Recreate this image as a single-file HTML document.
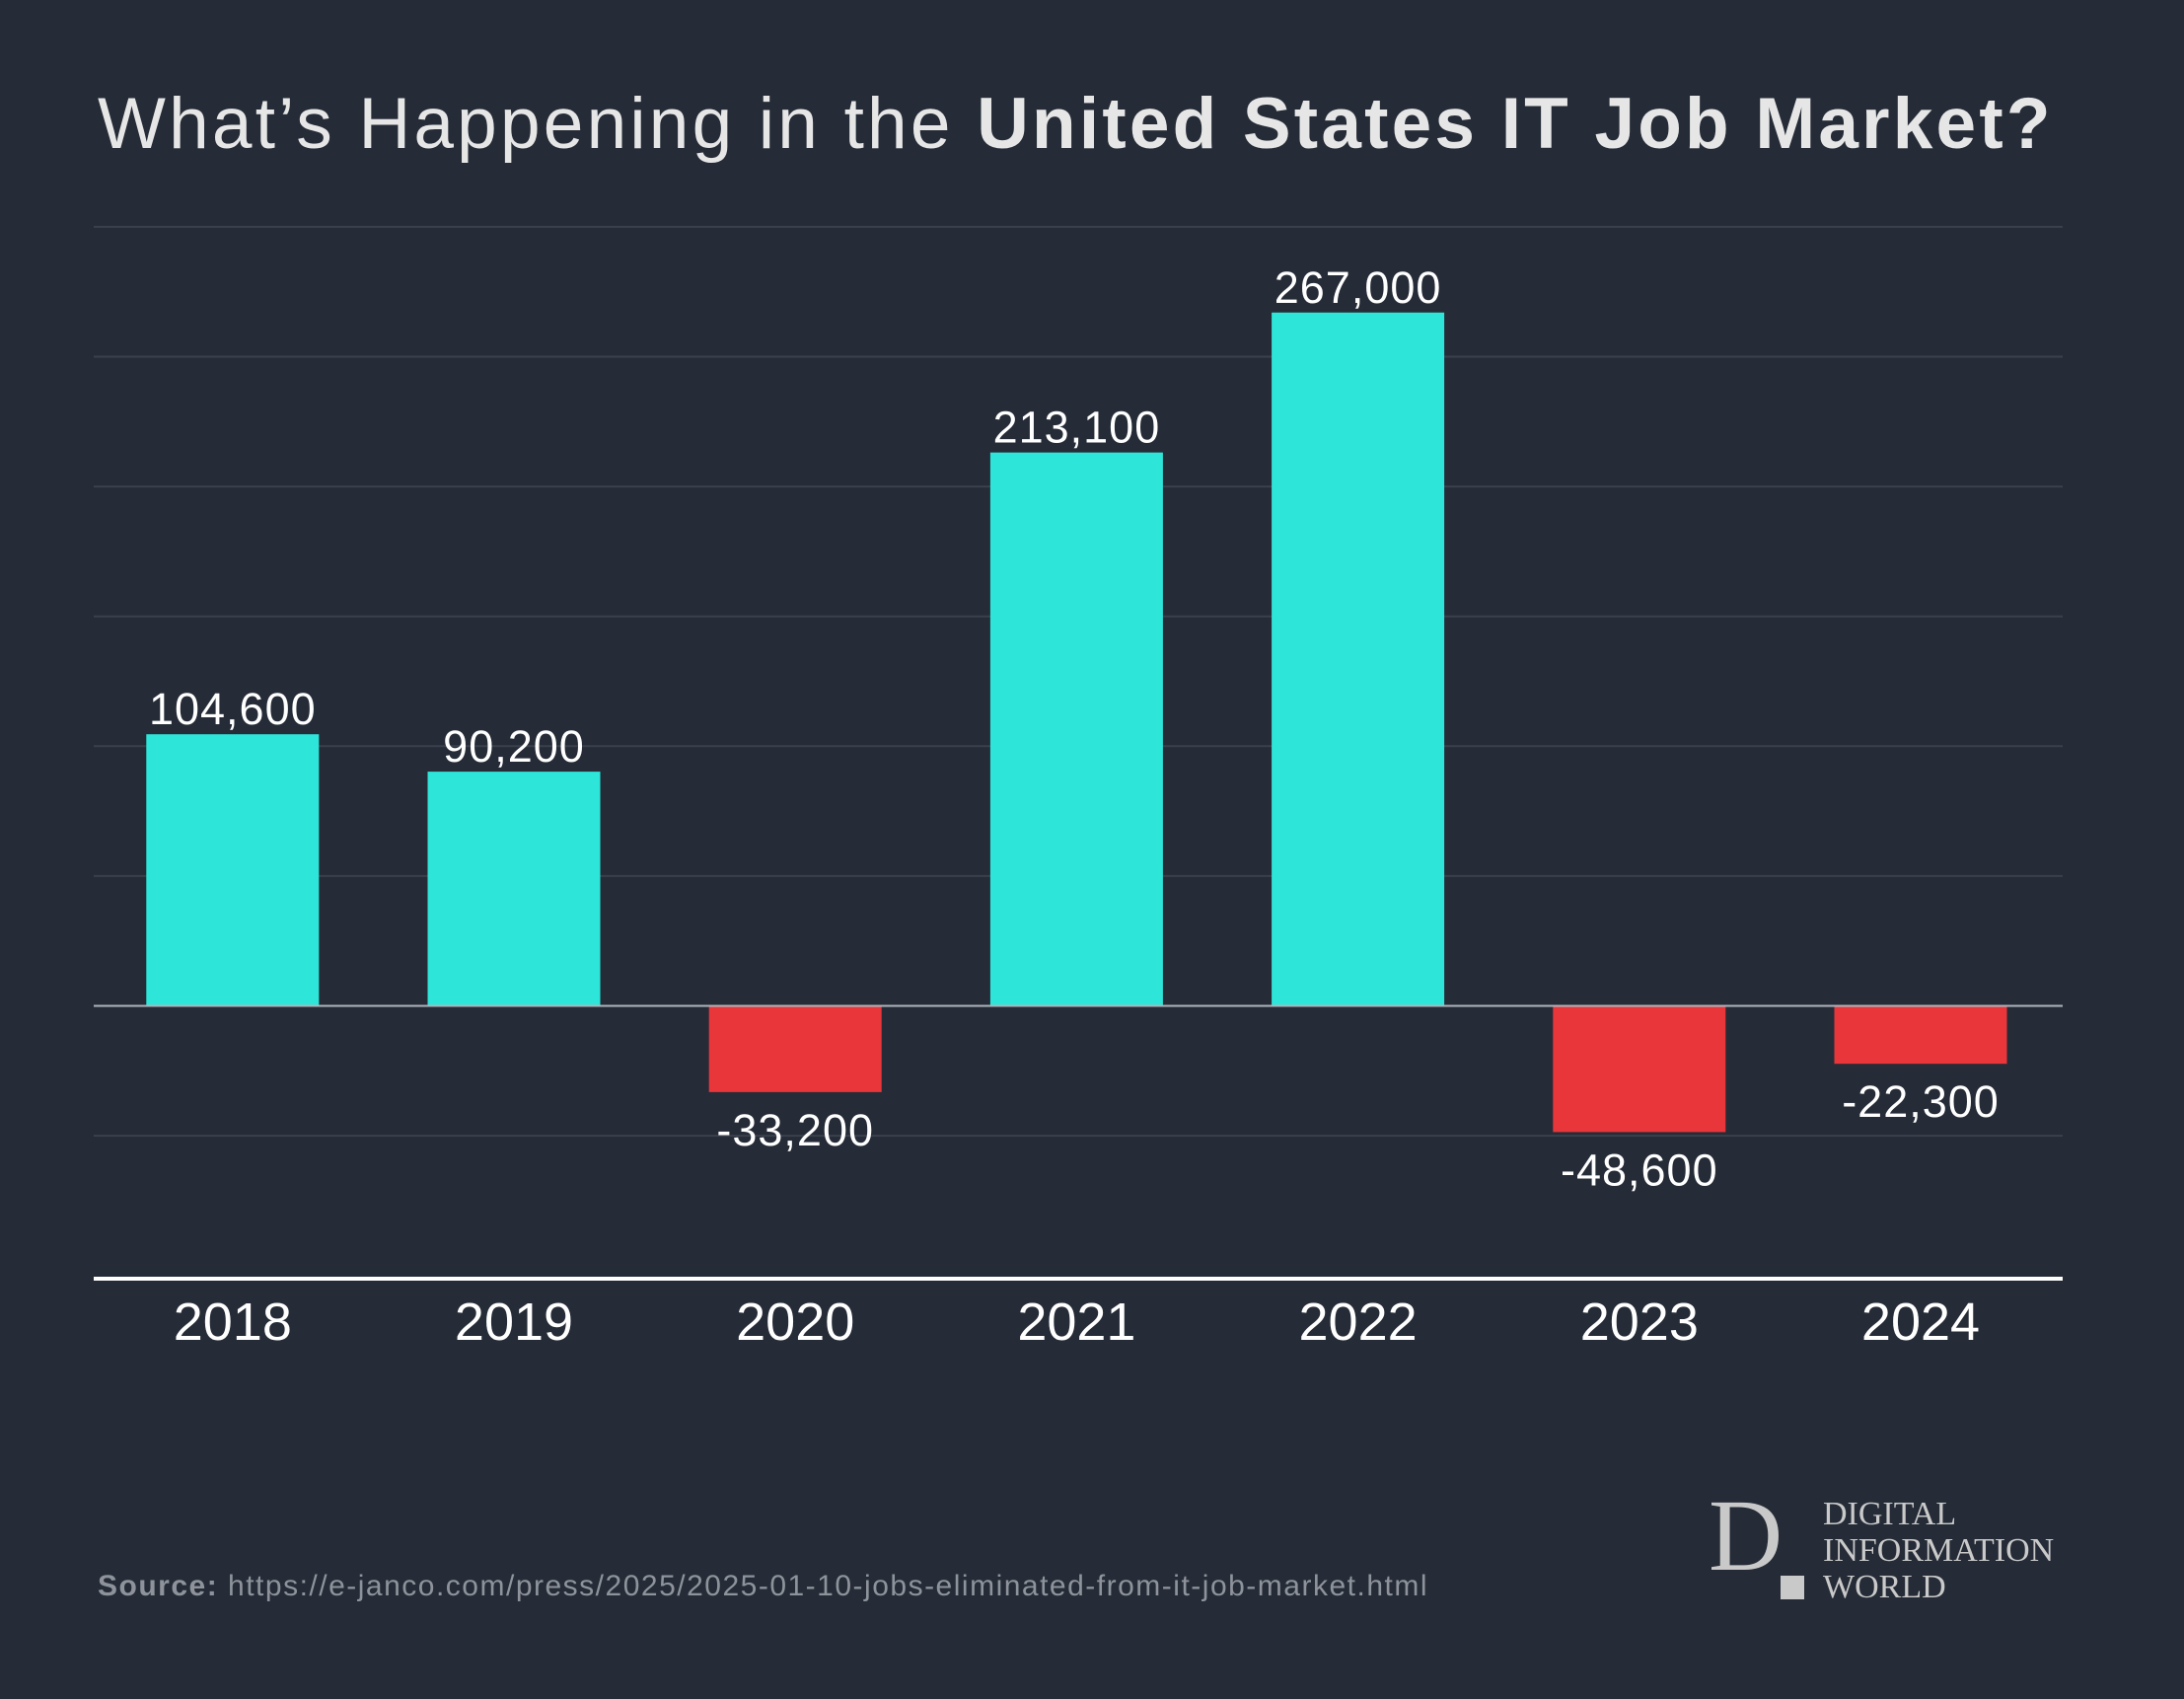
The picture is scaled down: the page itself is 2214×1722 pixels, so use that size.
<!DOCTYPE html>
<html><head><meta charset="utf-8"><style>
html,body{margin:0;padding:0;background:#252c37;}
body{width:2214px;height:1722px;overflow:hidden;position:relative;font-family:"Liberation Sans",sans-serif;}
#title{position:absolute;left:99px;top:84px;font-size:73px;color:#e6e6e6;white-space:nowrap;letter-spacing:3.2px;}
#title b{font-weight:700;}
#source{position:absolute;left:99px;top:1591px;font-size:30px;color:#8e939b;white-space:nowrap;letter-spacing:1.5px;}
#source b{font-weight:700;}
.logo{position:absolute;font-family:"Liberation Serif",serif;color:#c9c9c9;}
</style></head><body>
<div id="title">What’s Happening in the <b>United States IT Job Market?</b></div>
<svg id="chart" width="2214" height="1722" style="position:absolute;left:0;top:0"></svg>
<div id="source"><b>Source:</b> https://e-janco.com/press/2025/2025-01-10-jobs-eliminated-from-it-job-market.html</div>
<div class="logo" style="left:1732px;top:1505px;font-size:104px;line-height:1;">D</div>
<div style="position:absolute;left:1805px;top:1597px;width:24px;height:24px;background:#c9c9c9;"></div>
<div class="logo" style="left:1848px;top:1516px;font-size:34px;line-height:37px;">DIGITAL<br>INFORMATION<br>WORLD</div>
<script>
const categories=["2018","2019","2020","2021","2022","2023","2024"];
const values=[104600,90200,-33200,213100,267000,-48600,-22300];
const labels=["104,600","90,200","-33,200","213,100","267,000","-48,600","-22,300"];
const gridTicks=[300000,250000,200000,150000,100000,50000,-50000];
const NS="http://www.w3.org/2000/svg";
const svg=document.getElementById('chart');
const x0=95,x1=2091,zeroY=1019.5,pxPer=131.6/50000;
const y=v=>zeroY-v*pxPer;
const step=285.2,firstC=235.8,bw=175;
const xc=i=>firstC+i*step;
function mk(t,a){const e=document.createElementNS(NS,t);for(const k in a)e.setAttribute(k,a[k]);svg.appendChild(e);return e;}
gridTicks.forEach(t=>{
 const l=mk('line',{x1:x0,x2:x1,y1:y(t),y2:y(t),stroke:'#3a414c','stroke-width':2});
 
 
});
values.forEach((v,i)=>{
 const top=Math.min(y(v),zeroY),h=Math.abs(y(v)-zeroY);
 const r=mk('rect',{x:xc(i)-bw/2,y:top,width:bw,height:h,fill:v>=0?'#2ee5d9':'#e8363b'});
 
 
 const ty=v>=0?y(v)-10:y(v)+54;
 const t=mk('text',{x:xc(i),y:ty,'text-anchor':'middle','font-size':45,fill:'#ffffff','font-family':'Liberation Sans, sans-serif','letter-spacing':'1'});
 t.textContent=labels[i];
 
 
 const c=mk('text',{x:xc(i),y:1358,'text-anchor':'middle','font-size':54,fill:'#ffffff','font-family':'Liberation Sans, sans-serif'});
 c.textContent=categories[i];
 
 
});
const z=mk('line',{x1:x0,x2:x1,y1:zeroY,y2:zeroY,stroke:'#b0b5bc','stroke-width':2});


const ax=mk('line',{x1:x0,x2:x1,y1:1296,y2:1296,stroke:'#ffffff','stroke-width':4});


</script>
</body></html>
